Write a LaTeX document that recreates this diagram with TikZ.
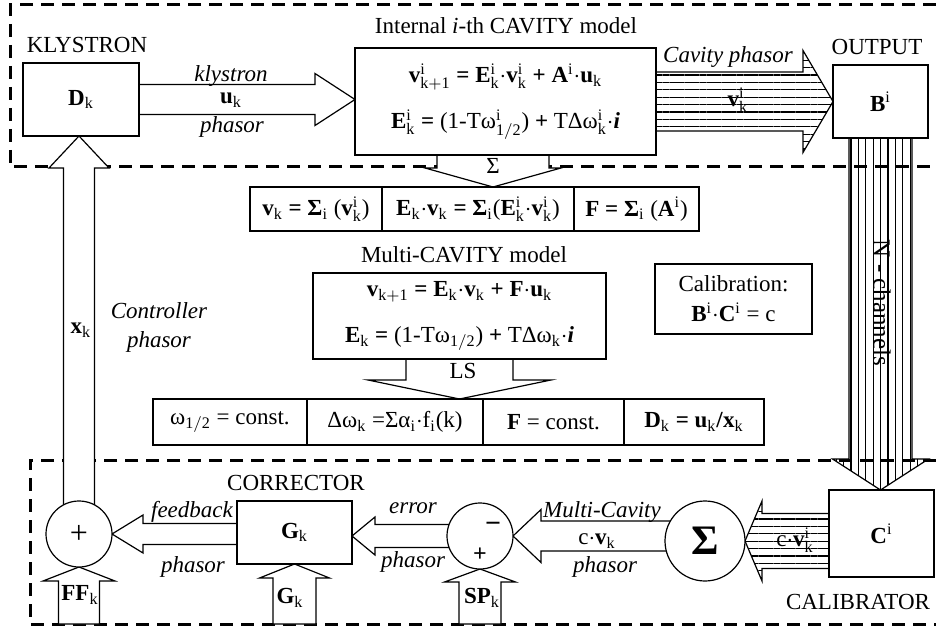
\documentclass[tikz,border=0pt]{standalone}
\usepackage{fontspec}
\setmainfont{Liberation Serif}
\usetikzlibrary{calc, positioning, patterns.meta, backgrounds}
\tikzset{
    rf_zone/.style={
        draw,
        line width=1.5pt,
        dash pattern=on 6.5pt off 4pt
    },
    rf_box/.style={
        rectangle,
        draw,
        line width=0.6pt,
        fill=white,
        inner sep=1pt,
        outer sep=0pt,
        align=center
    },
    rf_cell/.style={
        rf_box,
        minimum height=22pt
    },
    rf_sum/.style={
        circle,
        draw,
        line width=0.6pt,
        fill=white,
        inner sep=0pt,
        outer sep=0pt
    },
    rf_hollow/.style={
        draw,
        line width=0.6pt,
        fill=white,
        line join=miter
    },
    rf_hatch_h/.style={
        draw,
        line width=0.6pt,
        line join=miter,
        pattern={Lines[angle=0, distance=3.7pt, line width=0.6pt]}
    },
    rf_hatch_v/.style={
        draw,
        line width=0.6pt,
        line join=miter,
        pattern={Lines[angle=90, distance=3.7pt, line width=0.6pt]}
    },
    rf_tag/.style={
        inner sep=1pt
    },
    rf_note/.style={
        inner sep=1pt,
        font=\fontsize{11.5}{14}\selectfont\itshape
    }
}
% bold letter with upright sub/superscripts
\newcommand{\bsub}[2]{\textbf{#1}$_{\mathrm{#2}}$}
\newcommand{\bsup}[2]{\textbf{#1}$^{\mathrm{#2}}$}
\newcommand{\bsupsub}[3]{\textbf{#1}$^{\mathrm{#2}}_{\mathrm{#3}}$}
\newcommand{\rsub}[2]{#1$_{\mathrm{#2}}$}
\newcommand{\rsupsub}[3]{#1$^{\mathrm{#2}}_{\mathrm{#3}}$}
% wide block arrow: [style]{from}{to}{shaft half width}{head half width}{head length}
\newcommand{\fatarrow}[6][rf_hollow]{
    \draw[#1] ($(#2)!#4!90:(#3)$) -- ($(#3)!#6!(#2)!#4!90:(#3)$)
      -- ($(#3)!#6!(#2)!#5!90:(#3)$) -- (#3)
      -- ($(#3)!#6!(#2)!#5!-90:(#3)$) -- ($(#3)!#6!(#2)!#4!-90:(#3)$)
      -- ($(#2)!#4!-90:(#3)$) -- cycle;
}

\begin{document}
\begin{tikzpicture}[x=0.5pt, y=-0.5pt, font=\fontsize{11.5}{14}\selectfont]
\useasboundingbox (0,0) rectangle (936,630);

% dashed zones
\begin{scope}[on background layer]
\draw[rf_zone] (936,5) -- (10,5) -- (10,167) -- (936,167);
\draw[rf_zone] (936,460) -- (30,460) -- (30,624) -- (936,624);
\end{scope}
\coordinate (zone_b) at (0,624);

% klystron and cavity
\node[rf_box, minimum width=58pt, minimum height=36.5pt] (Dk) at (81,99.5) {\bsub{D}{k}};
\node[rf_tag] (klyT) at (87,45) {KLYSTRON};
\node[rf_box, minimum width=150.5pt, minimum height=53.5pt] (cav) at (505.5,101.5)
  {{\bfseries \bsupsub{v}{i}{k+1} = \bsupsub{E}{i}{k}$\cdot$\bsupsub{v}{i}{k} + \bsup{A}{i}$\cdot$\bsub{u}{k}}\\[9pt]
   \bsupsub{E}{i}{k} \textbf{=} (1-T\rsupsub{ω}{i}{1/2}) \textbf{+} TΔ\rsupsub{ω}{i}{k}$\cdot$\textbf{\textit{i}}};
\node[rf_tag] (cavT) at (506,26) {Internal \textit{i}-th CAVITY model};
\node[rf_box, minimum width=47.5pt, minimum height=36.5pt] (Bi) at (880.5,101.5) {\bsup{B}{i}};
\node[rf_tag] (outT) at (877,47) {OUTPUT};

% summed model rows
\node[rf_cell, minimum width=66pt, anchor=west] (r1a) at (250,209)
  {\bsub{v}{k} \textbf{= Σ}$_{\mathrm{i}}$ (\bsupsub{v}{i}{k})};
\node[rf_cell, minimum width=96pt, right=0pt of r1a] (r1b)
  {\bsub{E}{k}$\cdot$\bsub{v}{k} \textbf{= Σ}$_{\mathrm{i}}$(\bsupsub{E}{i}{k}$\cdot$\bsupsub{v}{i}{k})};
\node[rf_cell, minimum width=62.5pt, right=0pt of r1b] (r1c)
  {\textbf{F = Σ}$_{\mathrm{i}}$ (\bsup{A}{i})};

\node[rf_tag] (multiT) at (464,255) {Multi-CAVITY model};
\node[rf_box, minimum width=146.5pt, minimum height=43pt] (multi) at (459.5,316)
  {\bsub{v}{k+1} \textbf{=} \bsub{E}{k}$\cdot$\bsub{v}{k} \textbf{+} \textbf{F}$\cdot$\bsub{u}{k}\\[9pt]
   \bsub{E}{k} \textbf{=} (1-T\rsub{ω}{1/2}) \textbf{+} TΔ\rsub{ω}{k}$\cdot$\textbf{\textit{i}}};

\node[rf_cell, minimum height=23pt, minimum width=77pt, anchor=west] (r2a) at (153,422)
  {\rsub{ω}{1/2} = const.};
\node[rf_cell, minimum height=23pt, minimum width=88pt, right=0pt of r2a] (r2b)
  {Δ\rsub{ω}{k} =Σ\rsub{α}{i}$\cdot$\rsub{f}{i}(k)};
\node[rf_cell, minimum height=23pt, minimum width=70.5pt, right=0pt of r2b] (r2c)
  {\textbf{F} = const.};
\node[rf_cell, minimum height=23pt, minimum width=70pt, right=0pt of r2c] (r2d)
  {\bsub{D}{k} \textbf{=} \bsub{u}{k}\textbf{/}\bsub{x}{k}};

\node[rf_box, minimum width=78.5pt, minimum height=35pt] (calib) at (733.5,299)
  {Calibration:\\[1pt]\bsup{B}{i}$\cdot$\bsup{C}{i} = c};

% corrector loop
\node[rf_sum, minimum size=33pt] (plus) at (79,534) {\fontsize{16}{16}\selectfont +};
\node[rf_box, minimum width=57.5pt, minimum height=31.5pt] (Gk) at (294.5,532.5) {\bsub{G}{k}};
\node[rf_tag] (corT) at (296,483) {CORRECTOR};
\node[rf_sum, minimum size=33pt] (sub) at (480,536) {};
\node[rf_sum, minimum size=40pt] (sig) at (705,541) {\fontsize{21}{21}\selectfont\bfseries Σ};
\node[rf_box, minimum width=52.5pt, minimum height=43.5pt] (Ci) at (881.5,533.5) {\bsup{C}{i}};
\node[rf_tag] (calT) at (858,602) {CALIBRATOR};

% block arrows
\coordinate (kly_e) at (Dk.east -| cav.west);
\coordinate (cvp_e) at (cav.east -| Bi.west);
\coordinate (sig_s) at (493,155);
\coordinate (sig_e) at (sig_s |- r1b.north);
\coordinate (ls_e) at (multi.south |- r2b.north);
\coordinate (nch_e) at (Bi.south |- Ci.north);
\coordinate (cvi_s) at (sig.east -| Ci.west);
\coordinate (mc_s) at (sub.east -| sig.center);
\coordinate (err_e) at (sub.center -| Gk.east);
\coordinate (fb_s) at (plus.east -| Gk.center);
\coordinate (xk_e) at (plus.center |- Dk.south);
\coordinate (ff_s) at (plus.south |- zone_b);
\coordinate (gk_s) at (Gk.south |- zone_b);
\coordinate (sp_s) at (sub.south |- zone_b);
\begin{scope}[on background layer]
\fatarrow{Dk.east}{kly_e}{7.5pt}{13pt}{20pt}
\fatarrow{sig_s}{sig_e}{28pt}{34pt}{9.5pt}
\fatarrow{multi.south}{ls_e}{26.75pt}{45.75pt}{9.5pt}
\fatarrow[rf_hatch_h]{cav.east}{cvp_e}{14.75pt}{25.5pt}{15pt}
\fatarrow[rf_hatch_v]{Bi.south}{nch_e}{15.75pt}{24pt}{15.5pt}
\fatarrow[rf_hatch_h]{cvi_s}{sig.east}{13.75pt}{20pt}{8.5pt}
\fatarrow{mc_s}{sub.east}{7.5pt}{13.25pt}{14pt}
\fatarrow{sp_s}{sub.south}{10.5pt}{17.75pt}{6.5pt}
\fatarrow{sub.center}{err_e}{5.75pt}{9.5pt}{11.5pt}
\fatarrow{fb_s}{plus.east}{5.25pt}{9.5pt}{15.5pt}
\fatarrow{plus.center}{xk_e}{7.75pt}{15pt}{16pt}
\fatarrow{ff_s}{plus.south}{10.25pt}{18pt}{7pt}
\fatarrow{gk_s}{Gk.south}{10.75pt}{17.5pt}{7pt}
\end{scope}

% arrow labels
\node[rf_note] (klyL1) at (231,76) {klystron};
\node[rf_tag] (klyL2) at (231,100) {\bsub{u}{k}};
\node[rf_note] (klyL3) at (232,127) {phasor};
\node[rf_note] (cvpL1) at (728,57) {Cavity phasor};
\node[rf_tag] (cvpL2) at (738,100) {\bsupsub{v}{i}{k}};
\node[rf_tag] (sigL) at (493,166) {Σ};
\node[rf_tag] (lsL) at (463,371) {LS};
\node[rf_tag, rotate=-90, font=\fontsize{12.5}{14}\selectfont] (nchL) at (882,303) {N - channels};
\node[rf_tag] (xkL) at (81,330) {\bsub{x}{k}};
\node[rf_note, align=center] (ctlL) at (159,327) {Controller\\[0.5pt]phasor};
\node[rf_note] (fbL1) at (192,512) {feedback};
\node[rf_note] (fbL2) at (193,567) {phasor};
\node[rf_tag] (ffL) at (80,595) {\bsub{FF}{k}};
\node[rf_tag] (gkL) at (290,598) {\bsub{G}{k}};
\node[rf_note] (errL1) at (413,508) {error};
\node[rf_note] (errL2) at (413,562) {phasor};
\node[rf_tag, font=\fontsize{14}{14}\selectfont\bfseries] (subM) at (493,527) {−};
\node[rf_tag, font=\fontsize{12}{12}\selectfont\bfseries] (subP) at (480,555) {+};
\node[rf_tag] (spL) at (482,598) {\bsub{SP}{k}};
\node[rf_note] (mcL1) at (602,512) {Multi-Cavity};
\node[rf_tag] (mcL2) at (597,541) {c$\cdot$\bsub{v}{k}};
\node[rf_note] (mcL3) at (605,567) {phasor};
\node[rf_tag] (cviL) at (795,540) {c$\cdot$\bsupsub{v}{i}{k}};

\end{tikzpicture}
\end{document}
